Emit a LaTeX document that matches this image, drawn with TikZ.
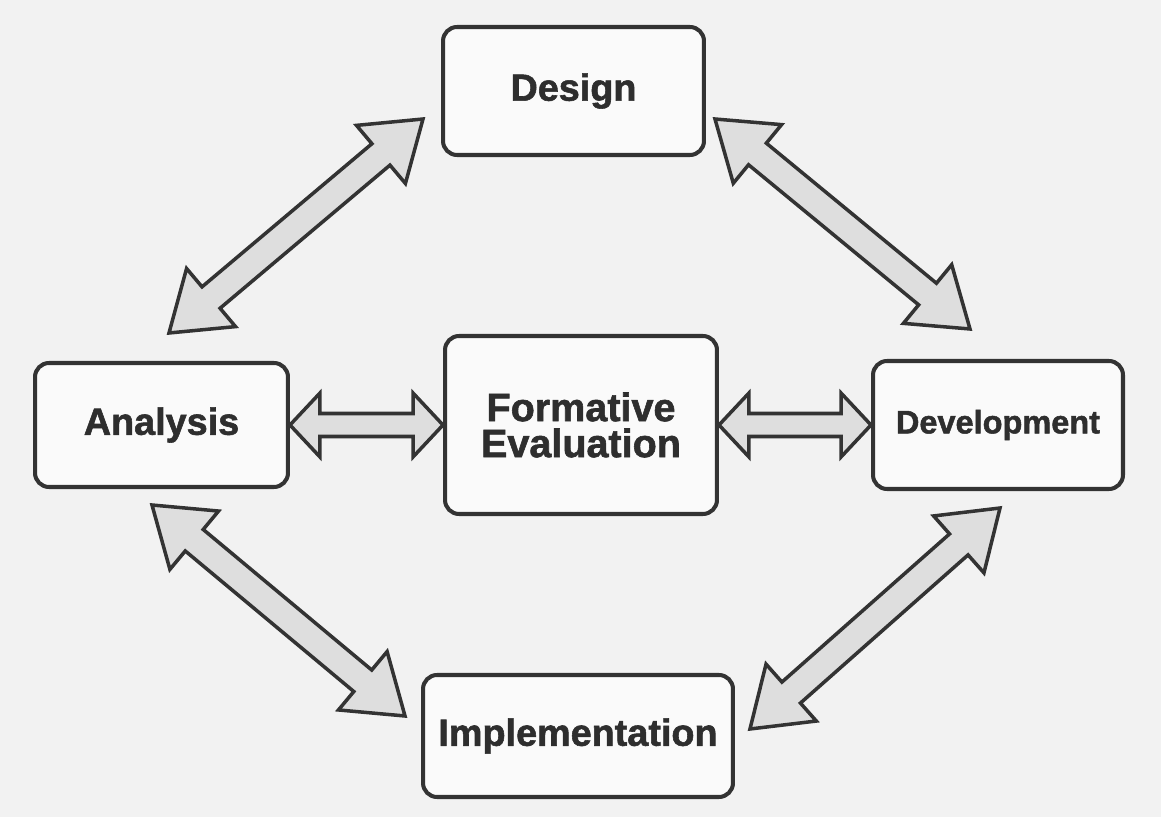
\documentclass[tikz,border=0pt]{standalone}
\usepackage{fontspec}
\setmainfont{Liberation Sans}[BoldFeatures={FakeBold=1.5}]
\usetikzlibrary{calc}

\tikzset{
  stage/.style={draw=black!80, line width=2.3pt, rounded corners=0.28cm,
    fill=black!2, align=center, inner sep=0pt, text=black!82,
    font=\bfseries\fontsize{21.5}{23}\selectfont},
  arrowbody/.style={draw=black!80, line width=2pt, fill=black!13, line join=miter},
}

% two-headed block arrow between tips #1 and #2
% #3 head length, #4 head half width, #5 shaft half width
\newcommand{\twoway}[5]{%
  \coordinate (hA) at ($(#1)!#3!(#2)$);
  \coordinate (hB) at ($(#2)!#3!(#1)$);
  \draw[arrowbody] (#1)
    -- ($(hA)!#4!90:(#2)$) -- ($(hA)!#5!90:(#2)$)
    -- ($(hB)!#5!-90:(#1)$) -- ($(hB)!#4!-90:(#1)$)
    -- (#2)
    -- ($(hB)!#4!90:(#1)$) -- ($(hB)!#5!90:(#1)$)
    -- ($(hA)!#5!-90:(#2)$) -- ($(hA)!#4!-90:(#2)$)
    -- cycle;
}

\begin{document}
\begin{tikzpicture}[x=0.02cm,y=-0.02cm]
  % page
  \fill[black!5] (0,0) rectangle (1161,817);

  % Stages
  \node[stage, minimum width=5.22cm, minimum height=2.56cm] (design) at (573.5,91) {Design};
  \node[stage, minimum width=5.06cm, minimum height=2.48cm] (analysis) at (161.5,425) {Analysis};
  \node[stage, minimum width=5.44cm, minimum height=3.56cm,
    font=\bfseries\fontsize{22.5}{20.5}\selectfont] (formative) at (581,425) {Formative\\Evaluation};
  \node[stage, minimum width=5.0cm, minimum height=2.56cm,
    font=\bfseries\fontsize{18.5}{20}\selectfont] (development) at (998,425) {Development};
  \node[stage, minimum width=6.2cm, minimum height=2.44cm] (implementation) at (578,736) {Implementation};

  % Arrow ends off the boxes
  \coordinate (ana-top) at ([shift={(7.5,-28)}]analysis.north);
  \coordinate (ana-bot) at ([shift={(-9.5,16)}]analysis.south);
  \coordinate (des-left) at ([shift={(-18,-38)}]design.south west);
  \coordinate (des-right) at ([shift={(9,-38)}]design.south east);
  \coordinate (dev-top) at ([shift={(-28,-30)}]development.north);
  \coordinate (dev-bot) at ([shift={(2,17)}]development.south);
  \coordinate (imp-left) at ([shift={(-16,43)}]implementation.north west);
  \coordinate (imp-right) at ([shift={(15,56)}]implementation.north east);

  % Diagonal arrows
  \twoway{ana-top}{des-left}{1.1cm}{0.76cm}{0.28cm}
  \twoway{des-right}{dev-top}{1.1cm}{0.76cm}{0.28cm}
  \twoway{ana-bot}{imp-left}{1.1cm}{0.76cm}{0.28cm}
  \twoway{dev-bot}{imp-right}{1.1cm}{0.76cm}{0.28cm}

  % Arrows to the centre
  \twoway{analysis.east}{formative.west}{0.6cm}{0.64cm}{0.23cm}
  \twoway{formative.east}{development.west}{0.6cm}{0.64cm}{0.23cm}
\end{tikzpicture}
\end{document}
